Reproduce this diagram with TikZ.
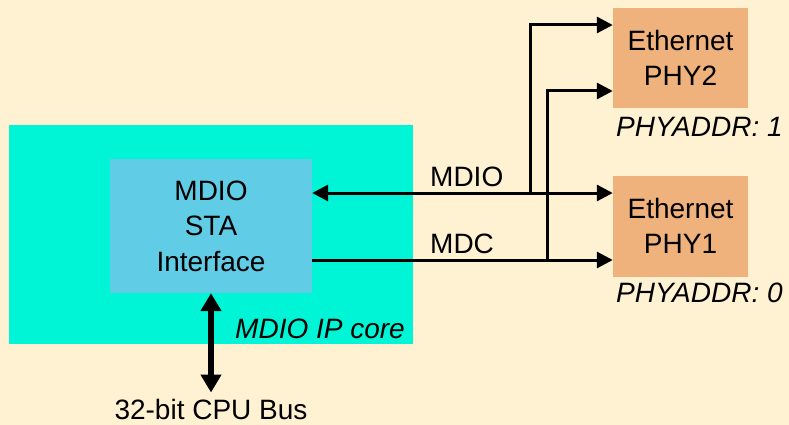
\documentclass[tikz,border=0pt]{standalone}
\usepackage{fontspec}
\setmainfont{Liberation Sans}
\usetikzlibrary{positioning,arrows.meta,calc}
\definecolor{paper}{RGB}{255,242,210}
\definecolor{corecyan}{RGB}{0,245,214}
\definecolor{stablue}{RGB}{96,204,230}
\definecolor{phyorange}{RGB}{240,178,124}
\tikzset{
  block/.style={inner sep=0pt,align=center},
  sig/.style={line width=3pt},
  sigarrow/.style={sig,-{Triangle[length=16pt,width=16pt]}},
  busarrow/.style={line width=6pt,{Triangle[length=18pt,width=20pt]}-{Triangle[length=18pt,width=20pt]}},
  addr/.style={font=\fontsize{28}{35}\selectfont\itshape,inner sep=0pt}
}
\begin{document}
\begin{tikzpicture}[x=1pt,y=-1pt,every node/.style={font=\fontsize{28}{35.5}\selectfont}]
  \fill[paper] (0,0) rectangle (789,425);
  \useasboundingbox (0,0) rectangle (789,425);
  % blocks
  \node[block,fill=corecyan,minimum width=404pt,minimum height=219pt] (core) at (211,234.5) {};
  \node[block,fill=stablue,minimum width=202pt,minimum height=134pt] (sta) at (211,226) {MDIO\\STA\\Interface};
  \node[block,fill=phyorange,minimum width=135pt,minimum height=100pt] (phy2) at (680.5,58) {Ethernet\\PHY2};
  \node[block,fill=phyorange,minimum width=135pt,minimum height=101pt] (phy1) at (680.5,226) {Ethernet\\PHY1};
  % labels
  \node[addr,anchor=base east] (corelbl) at (405,338) {MDIO IP core};
  \node[addr,anchor=base west] (addr2) at (616,136) {PHYADDR: 1};
  \node[addr,anchor=base west] (addr1) at (616,302) {PHYADDR: 0};
  \node[inner sep=0pt,anchor=base west] (mdiolbl) at (430,186) {MDIO};
  \node[inner sep=0pt,anchor=base west] (mdclbl) at (430,253) {MDC};
  \node[inner xsep=0pt,inner ysep=6pt,anchor=base] (bus) at (211,419) {32-bit CPU Bus};
  % signals
  \coordinate (mdiotap) at (530,193);
  \coordinate (mdctap) at (547,260);
  \draw[sig,{Triangle[length=16pt,width=16pt]}-{Triangle[length=16pt,width=16pt]}] ([yshift=33pt]sta.east) -- ([yshift=33pt]sta.east -| phy1.west);
  \draw[sigarrow] ([yshift=-34pt]sta.east) -- ([yshift=-34pt]sta.east -| phy1.west);
  \draw[sigarrow] (mdiotap) |- ([yshift=33pt]phy2.west);
  \draw[sigarrow] (mdctap) |- ([yshift=-33pt]phy2.west);
  \draw[busarrow] (sta.south) -- (bus.north);
\end{tikzpicture}
\end{document}
